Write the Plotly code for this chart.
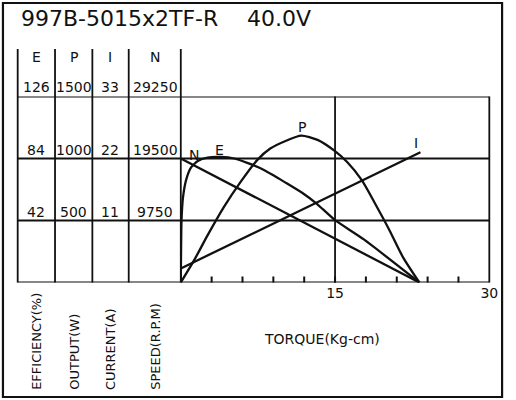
import plotly.graph_objects as go

# scale values printed in the left table (bottom row to top row)
eff_ticks = [42, 84, 126]
out_ticks = [500, 1000, 1500]
cur_ticks = [11, 22, 33]
spd_ticks = [9750, 19500, 29250]
columns = ["E", "P", "I", "N"]
column_titles = ["EFFICIENCY(%)", "OUTPUT(W)", "CURRENT(A)", "SPEED(R.P.M)"]

torque_ticks = [15, 30]

# curves, torque in Kg-cm
n_torque = [0, 23.2]
n_speed = [19500, 0]

i_torque = [0, 23.3]
i_current = [2.5, 23.1]

p_torque = [0, 1.3, 2.6, 4.2, 5.8, 7.4, 8.7, 10.3, 11.7, 13.3, 14.9, 16.2, 17.6, 18.9, 20.3, 21.6, 23.2]
p_output = [0, 180, 380, 610, 810, 985, 1080, 1145, 1185, 1150, 1065, 970, 825, 635, 420, 205, 0]

e_torque = [0, 0.07, 0.22, 0.54, 1.0, 1.65, 2.6, 3.9, 5.2, 6.4, 7.7, 9.0, 10.1, 11.9, 13.2, 15.0, 17.8, 23.2]
e_eff = [0, 42, 58, 70, 78, 82.3, 84.6, 85, 84, 81.2, 77.6, 72.6, 68, 60.3, 53.5, 42.2, 29.2, 0]

W, H = 516, 400
FONT = "DejaVu Sans"
INK = "#111111"


def px(x):
    return x / W


def py(y):
    return 1 - y / H


# plot box in pixels
X0, X1 = 184, 498
Y_TOP, Y_BOT = 96.5, 282.5
col_x = [37, 75, 112, 158]
col_lines = [18, 56, 94, 131, 184]
RULE = 1.8

fig = go.Figure()

line = dict(color=INK, width=2.3)
fig.add_trace(go.Scatter(x=n_torque, y=n_speed, mode="lines", line=line, yaxis="y"))
fig.add_trace(go.Scatter(x=i_torque, y=i_current, mode="lines", line=line, yaxis="y4"))
fig.add_trace(go.Scatter(x=p_torque, y=p_output, mode="lines",
                         line=dict(color=INK, width=2.3, shape="spline", smoothing=0.7), yaxis="y3"))
fig.add_trace(go.Scatter(x=e_torque, y=e_eff, mode="lines",
                         line=dict(color=INK, width=2.3, shape="spline", smoothing=0.5), yaxis="y2"))

shapes = []
# outer frame
shapes.append(dict(type="rect", xref="paper", yref="paper",
                   x0=px(3), x1=px(511), y0=py(397), y1=py(3),
                   line=dict(color=INK, width=2.2)))
# table column separators
for cx in col_lines:
    shapes.append(dict(type="line", xref="paper", yref="paper",
                       x0=px(cx), x1=px(cx), y0=py(49), y1=py(Y_BOT),
                       line=dict(color=INK, width=RULE)))
# right border of plot
shapes.append(dict(type="line", xref="paper", yref="paper",
                   x0=px(X1), x1=px(X1), y0=py(Y_TOP), y1=py(Y_BOT),
                   line=dict(color=INK, width=RULE)))
# horizontal rules, tied to the speed scale
for v in [0] + spd_ticks:
    shapes.append(dict(type="line", xref="paper", yref="y",
                       x0=px(18), x1=px(X1), y0=v, y1=v,
                       line=dict(color=INK, width=RULE)))
# torque 15 grid line
shapes.append(dict(type="line", xref="x", yref="y domain",
                   x0=torque_ticks[0], x1=torque_ticks[0], y0=0, y1=1,
                   line=dict(color=INK, width=RULE)))
# small upward ticks every 3 Kg-cm on the torque axis
for t in range(3, 30, 3):
    shapes.append(dict(type="line", xref="x", yref="paper",
                       x0=t, x1=t, y0=py(Y_BOT), y1=py(Y_BOT - 6),
                       line=dict(color=INK, width=2)))

ann = []
tfont = dict(family=FONT, size=14, color=INK)
ann.append(dict(text="997B-5015x2TF-R", x=px(19), y=py(19), xref="paper", yref="paper",
                xanchor="left", yanchor="middle", showarrow=False,
                font=dict(family=FONT, size=22, color=INK)))
ann.append(dict(text="40.0V", x=px(249), y=py(19), xref="paper", yref="paper",
                xanchor="left", yanchor="middle", showarrow=False,
                font=dict(family=FONT, size=22, color=INK)))

for cx, name in zip(col_x, columns):
    ann.append(dict(text=name, x=px(cx), y=py(57), xref="paper", yref="paper",
                    xanchor="center", yanchor="middle", showarrow=False, font=tfont))

for k, v in enumerate(spd_ticks):
    row = [eff_ticks[k], out_ticks[k], cur_ticks[k], spd_ticks[k]]
    for cx, val in zip(col_x, row):
        ann.append(dict(text=str(val), x=px(cx), y=v, xref="paper", yref="y",
                        xanchor="center", yanchor="bottom", yshift=-1,
                        showarrow=False, font=tfont))

for cx, name in zip(col_x, column_titles):
    ann.append(dict(text=name, x=px(cx), y=py(392), xref="paper", yref="paper",
                    textangle=-90, xanchor="center", yanchor="bottom",
                    showarrow=False, font=dict(family=FONT, size=13, color=INK)))

ann.append(dict(text="TORQUE(Kg-cm)", x=px(328), y=py(339), xref="paper", yref="paper",
                xanchor="center", yanchor="middle", showarrow=False, font=tfont))

# curve names
for name, lx, ly in [("N", 197, 155), ("E", 223, 150), ("P", 307, 127), ("I", 423, 143)]:
    ann.append(dict(text=name, x=px(lx), y=py(ly), xref="paper", yref="paper",
                    xanchor="center", yanchor="middle", showarrow=False, font=tfont))

hidden = dict(visible=False, domain=[py(Y_BOT), py(Y_TOP)], fixedrange=True)

fig.update_layout(
    width=W,
    height=H,
    margin=dict(l=0, r=0, t=0, b=0),
    paper_bgcolor="white",
    plot_bgcolor="white",
    showlegend=False,
    font=dict(family=FONT, color=INK),
    shapes=shapes,
    annotations=ann,
    xaxis=dict(
        domain=[px(X0), px(X1)],
        range=[0, 30],
        tickvals=torque_ticks,
        ticks="",
        showgrid=False,
        zeroline=False,
        showline=False,
        fixedrange=True,
        tickfont=dict(family=FONT, size=14, color=INK),
    ),
    yaxis=dict(range=[0, spd_ticks[-1]], **hidden),
    yaxis2=dict(range=[0, eff_ticks[-1]], overlaying="y", **hidden),
    yaxis3=dict(range=[0, out_ticks[-1]], overlaying="y", **hidden),
    yaxis4=dict(range=[0, cur_ticks[-1]], overlaying="y", **hidden),
)

fig.write_html(
    "out.html",
    config={"displayModeBar": False},
    post_script="document.body.style.margin='0px';"
                "document.body.style.overflow='hidden';"
                "document.documentElement.style.overflow='hidden';",
)
